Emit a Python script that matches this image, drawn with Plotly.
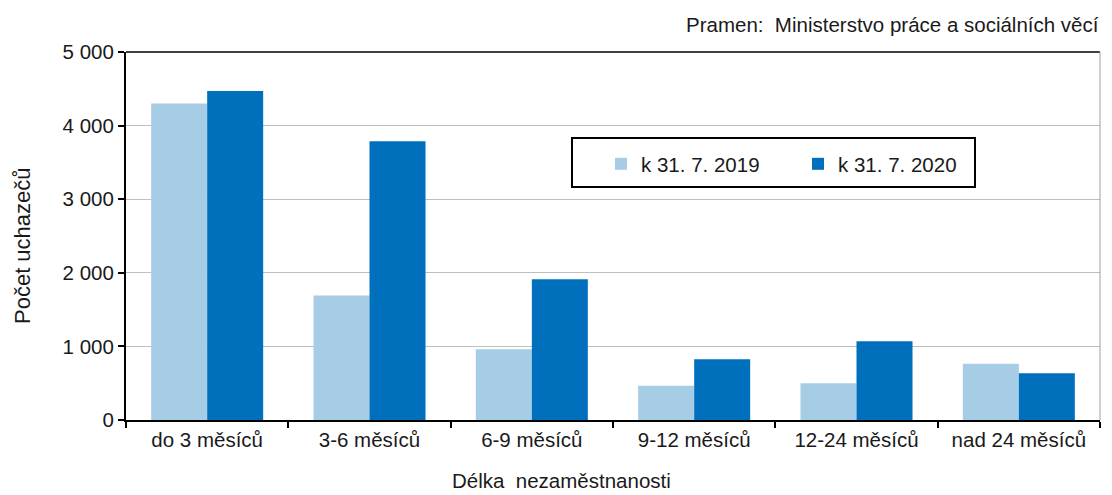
import plotly.graph_objects as go

categories = ["do 3 měsíců", "3-6 měsíců", "6-9 měsíců", "9-12 měsíců", "12-24 měsíců", "nad 24 měsíců"]
values_2019 = [4300, 1690, 960, 466, 498, 765]
values_2020 = [4470, 3787, 1911, 824, 1069, 634]
series_names = ["k 31. 7. 2019", "k 31. 7. 2020"]
y_ticks = [0, 1000, 2000, 3000, 4000, 5000]

FONT = "Liberation Sans, Arial, sans-serif"
OFF = 8  # page body margin
W, H = 1112 - OFF, 495 - OFF
L_REF, R_REF, T_REF, B_REF = 126, 1100, 52, 420
L, T = L_REF - OFF, T_REF - OFF
R = W - (R_REF - OFF)
B = H - (B_REF - OFF)
pw, ph = R_REF - L_REF, B_REF - T_REF

def px(x):
    return (x - L_REF) / pw

def py(y):
    return (B_REF - y) / ph

TXT = "#1a1a1a"
FS = 20.5

fig = go.Figure()
fig.add_trace(go.Bar(x=categories, y=values_2019, name=series_names[0],
                     marker=dict(color="#a7cce6", line=dict(width=0))))
fig.add_trace(go.Bar(x=categories, y=values_2020, name=series_names[1],
                     marker=dict(color="#0070bd", line=dict(width=0))))

fig.update_layout(
    width=W, height=H,
    margin=dict(l=L, r=R, t=T, b=B),
    paper_bgcolor="white", plot_bgcolor="white",
    font=dict(family=FONT, size=FS, color=TXT),
    barmode="group", bargap=0.31, bargroupgap=0,
    separators=", ",
    showlegend=True,
    legend=dict(orientation="h", x=px(601), y=py(144), xanchor="left", yanchor="top",
                bgcolor="rgba(0,0,0,0)", borderwidth=0, entrywidth=152, entrywidthmode="pixels",
                font=dict(family=FONT, size=FS, color=TXT), itemsizing="constant"),
    xaxis=dict(showline=True, linecolor="black", linewidth=2, ticks="outside", tickson="boundaries",
               ticklen=6, tickcolor="black", tickwidth=1.5, showgrid=False,
               tickfont=dict(family=FONT, size=FS, color=TXT)),
    yaxis=dict(range=[0, 5000], tickvals=y_ticks, tickformat=",d", showline=True, linecolor="black",
               linewidth=2, ticks="outside", ticklen=6, tickcolor="black", tickwidth=1.5,
               showgrid=True, gridcolor="#bfbfbf", gridwidth=1, zeroline=False,
               tickfont=dict(family=FONT, size=FS, color=TXT)),
)

# top border and right border
fig.add_shape(type="line", xref="paper", yref="paper", x0=0, x1=1, y0=1, y1=1,
              line=dict(color="black", width=1.5))
fig.add_shape(type="line", xref="paper", yref="paper", x0=1, x1=1, y0=0, y1=1,
              line=dict(color="#a0a0a0", width=1))
# legend box
fig.add_shape(type="rect", xref="paper", yref="paper", x0=px(572), x1=px(975), y0=py(187), y1=py(138),
              line=dict(color="black", width=2), fillcolor="rgba(0,0,0,0)")

fig.add_annotation(text="Pramen:  Ministerstvo práce a sociálních věcí", xref="paper", yref="paper",
                   x=px(1101), y=py(24), xanchor="right", yanchor="middle", showarrow=False,
                   font=dict(family=FONT, size=FS, color=TXT))
fig.add_annotation(text="Počet uchazečů", xref="paper", yref="paper", x=px(22), y=py(246),
                   xanchor="center", yanchor="middle", textangle=-90, showarrow=False,
                   font=dict(family=FONT, size=22, color=TXT))
fig.add_annotation(text="Délka  nezaměstnanosti", xref="paper", yref="paper", x=px(561), y=py(481),
                   xanchor="center", yanchor="middle", showarrow=False,
                   font=dict(family=FONT, size=FS, color=TXT))

fig.write_html("out.html")
